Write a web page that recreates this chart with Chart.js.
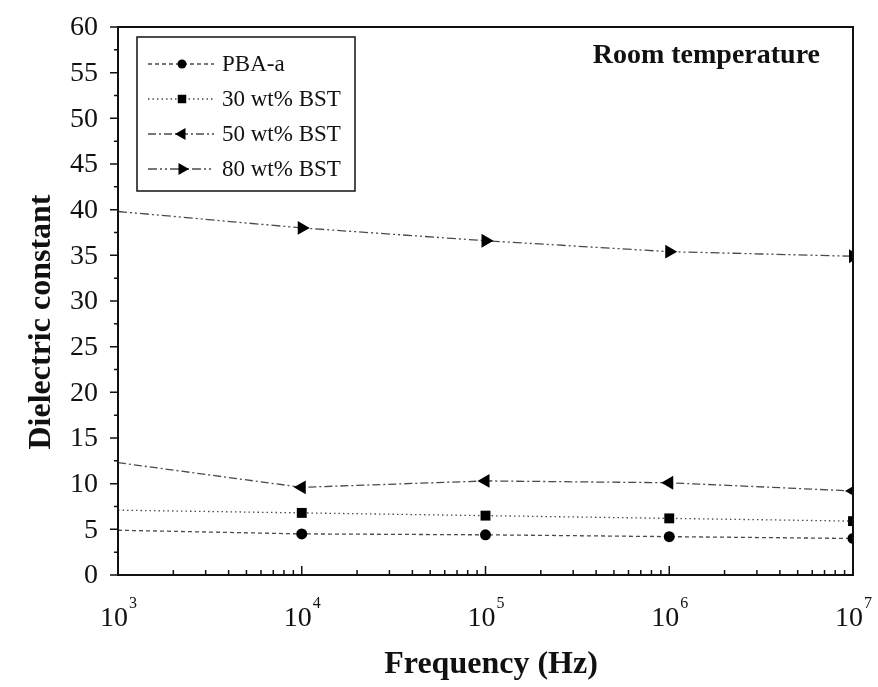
<!DOCTYPE html>
<html>
<head>
<meta charset="utf-8">
<script src="https://cdn.jsdelivr.net/npm/chart.js@4"></script>
<style>
  body { margin: 0; background: #fff; }
  #wrap { width: 878px; height: 687px; }
</style>
</head>
<body>
<div id="wrap"><canvas id="chart"></canvas></div>
<script>
// dielectric constant vs. frequency at room temperature
const freqs = [1e3, 1e4, 1e5, 1e6, 1e7];
const pbaA = [4.9, 4.5, 4.4, 4.2, 4.0];
const bst30 = [7.1, 6.8, 6.5, 6.2, 5.9];
const bst50 = [12.3, 9.6, 10.3, 10.1, 9.2];
const bst80 = [39.8, 38.0, 36.6, 35.4, 34.9];
const seriesNames = ['PBA-a', '30 wt% BST', '50 wt% BST', '80 wt% BST'];
const yTicks = [0, 5, 10, 15, 20, 25, 30, 35, 40, 45, 50, 55, 60];
const xTickExps = [3, 4, 5, 6, 7];

const serif = '"Liberation Serif", "Times New Roman", serif';
const lineColor = '#4a4a4a';

const styles = [
  { dash: [4, 3], pointStyle: 'circle', rotation: 0, radius: 5.5 },
  { dash: [1.5, 3], pointStyle: 'rect', rotation: 0, radius: 7 },
  { dash: [8, 3, 2, 3], pointStyle: 'triangle', rotation: -90, radius: 8 },
  { dash: [9, 3, 2, 3, 2, 3], pointStyle: 'triangle', rotation: 90, radius: 8 }
];

const values = [pbaA, bst30, bst50, bst80];

const datasets = values.map((vals, i) => ({
  label: seriesNames[i],
  data: vals.map((v, j) => ({ x: freqs[j], y: v })),
  borderColor: lineColor,
  borderWidth: 1.3,
  borderDash: styles[i].dash,
  pointStyle: styles[i].pointStyle,
  rotation: styles[i].rotation,
  // the first point sits on the left axis and is hidden behind it
  pointRadius: freqs.map((f, j) => (j === 0 ? 0 : styles[i].radius)),
  pointBackgroundColor: '#000',
  pointBorderWidth: 0,
  tension: 0
}));

const framePlugin = {
  id: 'frame',
  beforeDatasetsDraw(chart) {
    const { ctx, chartArea: a } = chart;
    ctx.save();
    ctx.beginPath();
    ctx.rect(a.left, a.top, a.right - a.left, a.bottom - a.top);
    ctx.clip();
  },
  afterDatasetsDraw(chart) {
    const { ctx, chartArea: a, scales: { x, y } } = chart;
    ctx.restore();
    ctx.save();
    ctx.setLineDash([]);
    ctx.strokeStyle = '#111';

    // box around plot
    ctx.lineWidth = 2;
    ctx.strokeRect(a.left, a.top, a.right - a.left, a.bottom - a.top);

    // y ticks (outward), minor every 2.5
    ctx.lineWidth = 1.5;
    ctx.beginPath();
    for (let v = 0; v <= 60; v += 2.5) {
      const py = y.getPixelForValue(v);
      const len = v % 5 === 0 ? 8 : 4;
      ctx.moveTo(a.left - len, py);
      ctx.lineTo(a.left, py);
    }
    // x ticks (inward), log minors
    for (let e = 3; e <= 7; e++) {
      for (let m = 1; m < 10; m++) {
        const f = m * Math.pow(10, e);
        if (f > 1e7) break;
        const px = x.getPixelForValue(f);
        const len = m === 1 ? 9 : 5;
        ctx.moveTo(px, a.bottom);
        ctx.lineTo(px, a.bottom - len);
      }
    }
    ctx.stroke();

    // y tick labels
    ctx.fillStyle = '#111';
    ctx.font = '28px ' + serif;
    ctx.textAlign = 'right';
    ctx.textBaseline = 'middle';
    yTicks.forEach(v => ctx.fillText(String(v), a.left - 20, y.getPixelForValue(v) + 1));

    // x tick labels with superscript exponent
    ctx.textBaseline = 'alphabetic';
    xTickExps.forEach(e => {
      const px = x.getPixelForValue(Math.pow(10, e));
      ctx.font = '28px ' + serif;
      const w1 = ctx.measureText('10').width;
      ctx.font = '16px ' + serif;
      const w2 = ctx.measureText(String(e)).width;
      const start = px - (w1 + w2) / 2;
      ctx.textAlign = 'left';
      ctx.font = '28px ' + serif;
      ctx.fillText('10', start, a.bottom + 51);
      ctx.font = '16px ' + serif;
      ctx.fillText(String(e), start + w1 + 1, a.bottom + 33);
    });

    // axis titles
    ctx.font = 'bold 32px ' + serif;
    ctx.textAlign = 'center';
    ctx.fillText('Frequency (Hz)', 491, a.bottom + 98);
    ctx.save();
    ctx.translate(42, 322);
    ctx.rotate(-Math.PI / 2);
    ctx.textBaseline = 'middle';
    ctx.fillText('Dielectric constant', 0, 0);
    ctx.restore();

    // annotation
    ctx.font = 'bold 28px ' + serif;
    ctx.textAlign = 'right';
    ctx.textBaseline = 'middle';
    ctx.fillText('Room temperature', a.right - 33, 56);

    // legend box
    const lx = 137, ly = 37, lw = 218, lh = 154;
    ctx.strokeStyle = '#111';
    ctx.lineWidth = 1.5;
    ctx.strokeRect(lx, ly, lw, lh);
    seriesNames.forEach((name, i) => {
      const rowY = 64 + i * 35;
      ctx.strokeStyle = lineColor;
      ctx.lineWidth = 1.3;
      ctx.setLineDash(styles[i].dash);
      ctx.beginPath();
      ctx.moveTo(148, rowY);
      ctx.lineTo(214, rowY);
      ctx.stroke();
      ctx.setLineDash([]);
      ctx.fillStyle = '#000';
      Chart.helpers.drawPoint(ctx, {
        pointStyle: styles[i].pointStyle,
        rotation: styles[i].rotation,
        radius: styles[i].radius - 1,
        borderWidth: 0
      }, 182, rowY);
      ctx.fillStyle = '#111';
      ctx.font = '23px ' + serif;
      ctx.textAlign = 'left';
      ctx.textBaseline = 'middle';
      ctx.fillText(name, 222, rowY + 1);
    });
    ctx.restore();
  }
};

new Chart(document.getElementById('chart'), {
  type: 'line',
  data: { datasets },
  options: {
    responsive: true,
    maintainAspectRatio: false,
    animation: false,
    layout: { padding: { left: 118, right: 25, top: 27, bottom: 112 } },
    plugins: { legend: { display: false }, tooltip: { enabled: false } },
    scales: {
      x: { type: 'logarithmic', min: 1e3, max: 1e7, display: false },
      y: { type: 'linear', min: 0, max: 60, display: false }
    }
  },
  plugins: [framePlugin]
});
</script>
</body>
</html>
